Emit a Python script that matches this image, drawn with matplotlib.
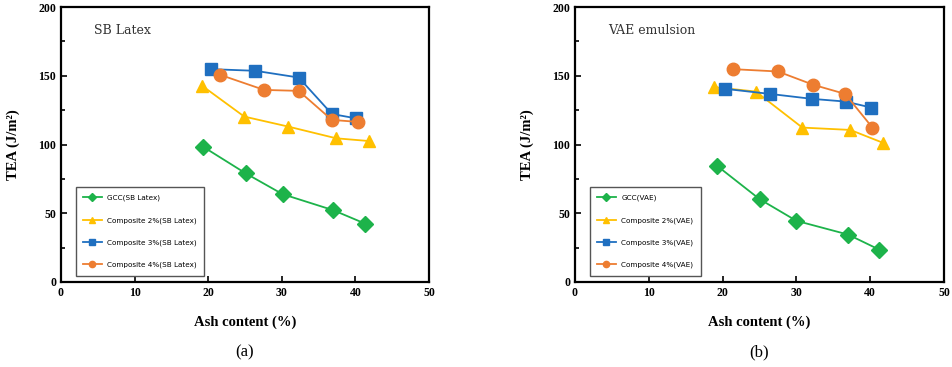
"""TEA vs ash content, SB latex and VAE emulsion"""

import matplotlib
matplotlib.use("Agg")
import matplotlib.pyplot as plt
from matplotlib.ticker import MultipleLocator

# (a) SB Latex
sb_gcc_x = [19.3, 25.1, 30.1, 37.0, 41.3]
sb_gcc_y = [98.4, 79.0, 63.9, 52.2, 42.5]
sb_c2_x = [19.2, 24.9, 30.9, 37.4, 41.9]
sb_c2_y = [142.6, 120.3, 113.0, 104.5, 102.5]
sb_c3_x = [20.4, 26.4, 32.3, 36.8, 40.1]
sb_c3_y = [154.8, 153.6, 148.7, 122.2, 119.0]
sb_c4_x = [21.6, 27.6, 32.3, 36.8, 40.4]
sb_c4_y = [150.7, 139.7, 139.0, 117.9, 116.4]

# (b) VAE emulsion
vae_gcc_x = [19.3, 25.0, 30.0, 37.0, 41.2]
vae_gcc_y = [84.3, 60.3, 44.5, 34.5, 23.6]
vae_c2_x = [18.9, 24.5, 30.8, 37.3, 41.7]
vae_c2_y = [141.7, 138.5, 112.3, 110.6, 101.3]
vae_c3_x = [20.3, 26.4, 32.1, 36.7, 40.1]
vae_c3_y = [140.5, 136.8, 133.2, 131.2, 126.9]
vae_c4_x = [21.4, 27.5, 32.3, 36.6, 40.3]
vae_c4_y = [154.8, 153.1, 143.4, 136.8, 112.3]

colors = ["#1db34a", "#ffc000", "#1f6fc0", "#ed7d31"]
markers = ["D", "^", "s", "o"]
sizes = [8, 9, 8, 9]

serif = "Liberation Serif"

fig = plt.figure(figsize=(9.53, 3.67), dpi=100)
W, H = 953, 367
ax_a = fig.add_axes([61 / W, 1 - 282 / H, 368 / W, 275 / H])
ax_b = fig.add_axes([575 / W, 1 - 282 / H, 369 / W, 275 / H])


def draw(ax, series, title, caption):
    for (x, y, name), c, m, s in zip(series, colors, markers, sizes):
        ax.plot(x, y, color=c, marker=m, markersize=s, linewidth=1.3,
                label=name)
    ax.set_xlim(0, 50)
    ax.set_ylim(0, 200)
    ax.xaxis.set_major_locator(MultipleLocator(10))
    ax.yaxis.set_major_locator(MultipleLocator(50))
    ax.yaxis.set_minor_locator(MultipleLocator(25))
    ax.tick_params(which="both", direction="in", labelsize=8.5, width=1.2)
    ax.tick_params(which="major", length=4)
    ax.tick_params(which="minor", length=3)
    for lbl in ax.get_xticklabels() + ax.get_yticklabels():
        lbl.set_fontfamily(serif)
        lbl.set_fontweight("bold")
    for sp in ax.spines.values():
        sp.set_linewidth(1.6)
    ax.set_xlabel("Ash content (%)", fontfamily=serif, fontweight="bold",
                  fontsize=10.5, labelpad=12)
    ax.set_ylabel("TEA (J/m²)", fontfamily=serif,
                  fontweight="bold", fontsize=10.5, labelpad=13)
    ax.text(0.09, 0.94, title, transform=ax.transAxes, fontsize=9,
            fontfamily="DejaVu Serif", color="#333333", va="top")
    leg = ax.legend(loc="lower left", bbox_to_anchor=(0.03, 0.01),
                    fontsize=5.2, markerscale=0.5, handlelength=2.6,
                    labelspacing=2.2, borderpad=1.0, fancybox=False,
                    framealpha=1)
    leg.get_frame().set_edgecolor("#555555")
    leg.get_frame().set_linewidth(1.0)
    ax.text(0.5, -0.255, caption, transform=ax.transAxes, fontsize=12,
            fontfamily=serif, ha="center", va="center")


draw(ax_a, [(sb_gcc_x, sb_gcc_y, "GCC(SB Latex)"),
            (sb_c2_x, sb_c2_y, "Composite 2%(SB Latex)"),
            (sb_c3_x, sb_c3_y, "Composite 3%(SB Latex)"),
            (sb_c4_x, sb_c4_y, "Composite 4%(SB Latex)")],
     "SB Latex", "(a)")
draw(ax_b, [(vae_gcc_x, vae_gcc_y, "GCC(VAE)"),
            (vae_c2_x, vae_c2_y, "Composite 2%(VAE)"),
            (vae_c3_x, vae_c3_y, "Composite 3%(VAE)"),
            (vae_c4_x, vae_c4_y, "Composite 4%(VAE)")],
     "VAE emulsion", "(b)")

fig.savefig("out.png", dpi=100)
